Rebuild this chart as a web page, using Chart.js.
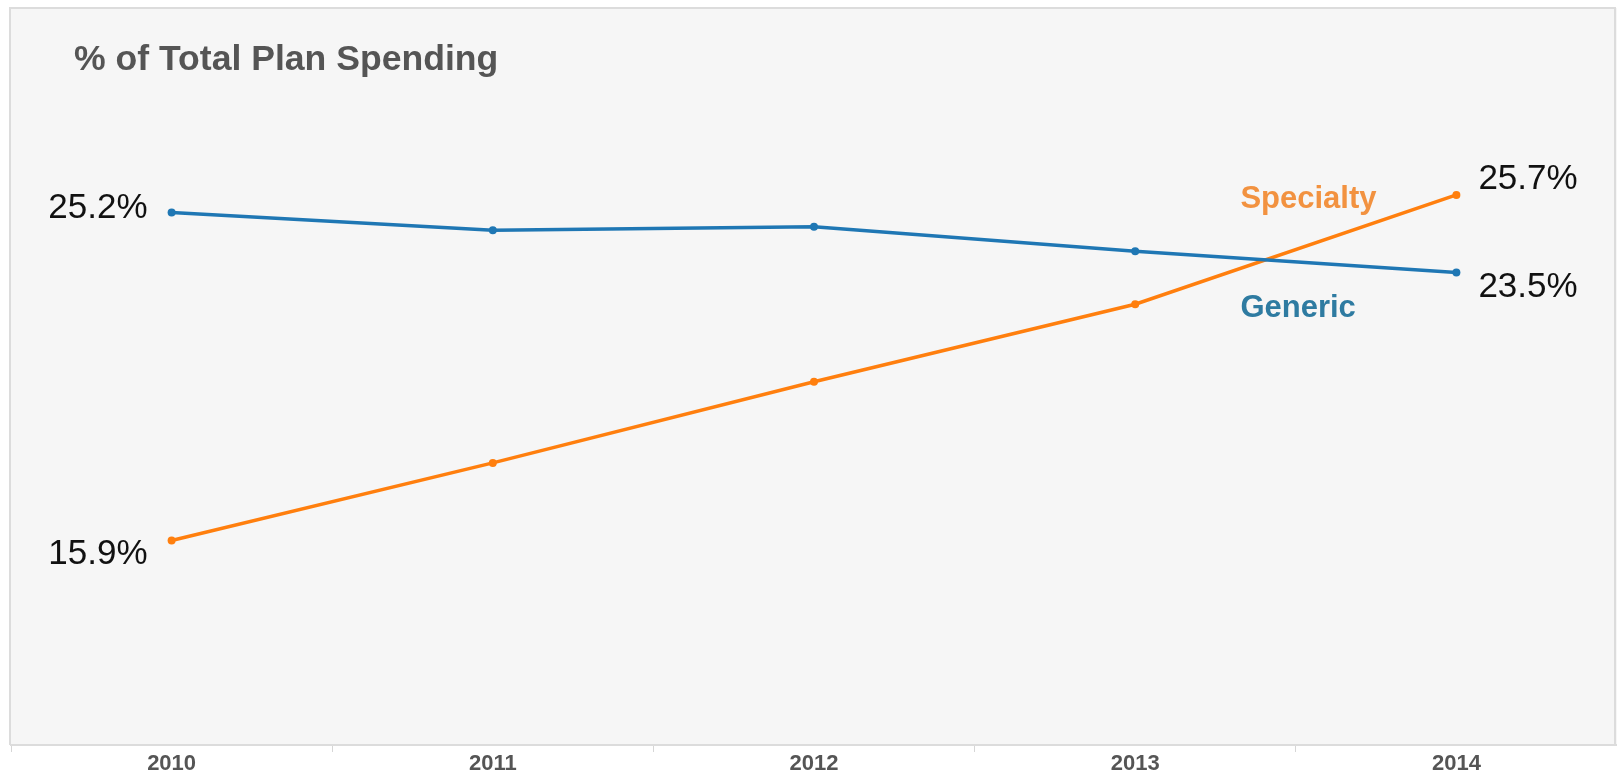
<!DOCTYPE html>
<html>
<head>
<meta charset="utf-8">
<script src="https://cdn.jsdelivr.net/npm/chart.js@4/dist/chart.umd.min.js"></script>
<style>
  html, body { margin: 0; padding: 0; background: #ffffff; }
  canvas { display: block; }
</style>
</head>
<body>
<canvas id="graficoGasto" width="1617" height="772"></canvas>
<script>
// dados
const anos = ['2010', '2011', '2012', '2013', '2014'];
const generico = [25.2, 24.7, 24.8, 24.1, 23.5];
const especialidade = [15.9, 18.1, 20.4, 22.6, 25.7];

const fonte = '"Liberation Sans", Arial, sans-serif';
const azul = '#1f77b4';
const laranja = '#ff7f0e';

// rotulos das pontas e nomes das series
const rotulos = {
    0: { inicio: { dx: -24, dy: -4 }, fim: { dx: 22, dy: 15 }, nome: 'Generic', corNome: '#2e7ba1', nomeDx: -216, nomeDy: 36 },
    1: { inicio: { dx: -24, dy: 14 }, fim: { dx: 22, dy: -16 }, nome: 'Specialty', corNome: '#f29240', nomeDx: -216, nomeDy: 5 }
};

const painel = {
    id: 'painel',
    beforeDraw(chart) {
        const c = chart.ctx;
        const a = chart.chartArea;
        c.save();
        c.fillStyle = '#f6f6f6';
        c.fillRect(10, 8, chart.width - 10, a.bottom - 8);
        c.strokeStyle = '#dcdcdc';
        c.lineWidth = 2;
        c.beginPath();
        c.moveTo(10, a.bottom);
        c.lineTo(10, 8);
        c.lineTo(chart.width - 2, 8);
        c.lineTo(chart.width - 2, a.bottom);
        c.stroke();
        c.restore();
    },
    afterDatasetsDraw(chart) {
        const c = chart.ctx;
        c.save();
        // titulo
        c.font = 'bold 35.6px ' + fonte;
        c.fillStyle = '#555555';
        c.textAlign = 'left';
        c.textBaseline = 'alphabetic';
        c.fillText('% of Total Plan Spending', 74, 70);

        chart.data.datasets.forEach((ds, i) => {
            const pts = chart.getDatasetMeta(i).data;
            const cfg = rotulos[i];
            const p0 = pts[0];
            const pN = pts[pts.length - 1];
            c.textBaseline = 'middle';
            c.fillStyle = '#111111';
            c.font = '35px ' + fonte;
            c.textAlign = 'right';
            c.fillText(ds.data[0].toFixed(1) + '%', p0.x + cfg.inicio.dx, p0.y + cfg.inicio.dy);
            c.textAlign = 'left';
            c.fillText(ds.data[ds.data.length - 1].toFixed(1) + '%', pN.x + cfg.fim.dx, pN.y + cfg.fim.dy);
            c.font = 'bold 31px ' + fonte;
            c.fillStyle = cfg.corNome;
            c.fillText(cfg.nome, pN.x + cfg.nomeDx, pN.y + cfg.nomeDy);
        });
        c.restore();
    }
};

const ctx = document.getElementById('graficoGasto');

new Chart(ctx, {
    type: 'line',
    data: {
        labels: anos,
        datasets: [
            {
                label: 'Generic',
                data: generico,
                borderColor: azul,
                backgroundColor: azul,
                borderWidth: 3.5,
                pointRadius: 4,
                pointBorderWidth: 0,
                tension: 0
            },
            {
                label: 'Specialty',
                data: especialidade,
                borderColor: laranja,
                backgroundColor: laranja,
                borderWidth: 3.5,
                pointRadius: 4,
                pointBorderWidth: 0,
                tension: 0
            }
        ]
    },
    options: {
        responsive: false,
        animation: false,
        devicePixelRatio: 1,
        layout: { autoPadding: false, padding: { left: 11, top: 8, right: 0, bottom: -4 } },
        plugins: {
            legend: { display: false },
            title: { display: false },
            tooltip: { enabled: false }
        },
        scales: {
            x: {
                offset: true,
                grid: {
                    offset: true,
                    drawOnChartArea: false,
                    drawTicks: true,
                    tickLength: 7,
                    color: '#d6d6d6',
                    lineWidth: 1
                },
                border: { color: '#dcdcdc', width: 2 },
                ticks: {
                    color: '#555555',
                    padding: 1,
                    font: { family: fonte, size: 22, weight: 'bold', lineHeight: 1 }
                }
            },
            y: {
                display: false,
                min: 10.1,
                max: 31.0
            }
        }
    },
    plugins: [painel]
});
</script>
</body>
</html>
